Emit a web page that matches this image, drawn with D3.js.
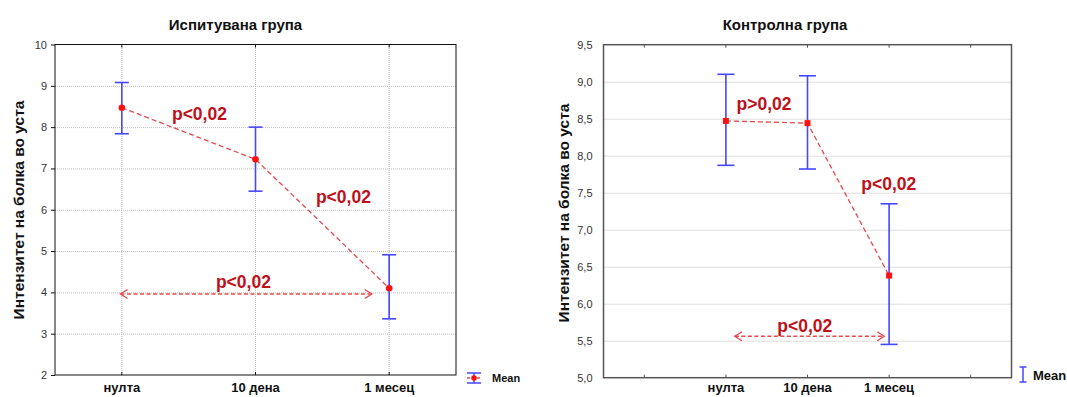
<!DOCTYPE html>
<html><head><meta charset="utf-8">
<script src="https://cdn.jsdelivr.net/npm/d3@7"></script>
<style>body{margin:0;background:#fff} svg{display:block} text{font-family:"Liberation Sans",Arial,sans-serif}</style>
</head><body><svg id="c" width="1067" height="397"></svg>
<script>
const categories = ["нулта", "10 дена", "1 месец"];
const expMean  = [8.47, 7.22, 4.10];
const expUpper = [9.08, 8.00, 4.91];
const expLower = [7.84, 6.45, 3.36];
const ctlMean  = [8.47, 8.44, 6.38];
const ctlUpper = [9.10, 9.08, 7.35];
const ctlLower = [7.87, 7.82, 5.45];
const expTicks = [2, 3, 4, 5, 6, 7, 8, 9, 10];
const ctlTicks = [5.0, 5.5, 6.0, 6.5, 7.0, 7.5, 8.0, 8.5, 9.0, 9.5];
const expNotes = [
  {t: "p<0,02", x: 0.375, y: 8.18},
  {t: "p<0,02", x: 1.452, y: 6.17},
  {t: "p<0,02", x: 0.704, y: 4.10}
];
const ctlNotes = [
  {t: "p>0,02", x: 0.13, y: 8.62},
  {t: "p<0,02", x: 1.66, y: 7.54},
  {t: "p<0,02", x: 0.63, y: 5.62}
];
const expArrow = {x1: -0.01, x2: 1.87, y: 3.96};
const ctlArrow = {x1: 0.11, x2: 1.94, y: 5.56};
const yTitle = "Интензитет на болка во уста";
const titles = ["Испитувана група", "Контролна група"];
const legendLabel = "Mean";

const svg = d3.select("#c");
svg.append("rect").attr("width", 1067).attr("height", 397).attr("fill", "#fff");
const defs = svg.append("defs");
defs.append("marker").attr("id", "ah").attr("viewBox", "-10 -6 12 12")
  .attr("markerWidth", 12).attr("markerHeight", 12).attr("markerUnits", "userSpaceOnUse")
  .attr("orient", "auto-start-reverse").attr("refX", 0).attr("refY", 0)
  .append("path").attr("d", "M-7,-4.5 L0,0 L-7,4.5").attr("fill", "none")
  .attr("stroke", "#e84a50").attr("stroke-width", 1.4);

const BLUE = "#4646ff", RED = "#ff1010", DASH = "#e04a50", NOTE = "#c0101a";

function panel(o) {
  const g = svg.append("g");
  const slots = o.pad ? ["_a", ...categories, "_b"] : categories.slice();
  const x = d3.scaleBand().domain(slots).range([o.l, o.r]);
  const cx = c => x(c) + x.bandwidth() / 2;
  const xi = d3.scaleLinear().domain([-0.5 - o.pad, categories.length - 0.5 + o.pad]).range([o.l, o.r]);
  const y = d3.scaleLinear().domain(o.yDomain).range([o.b, o.t]);
  const W = o.r - o.l, H = o.b - o.t;

  g.append("g").attr("transform", `translate(${o.l},0)`)
    .call(d3.axisLeft(y).tickValues(o.ticks.filter(v => v > o.yDomain[0] && v < o.yDomain[1])).tickSize(-W).tickFormat(""))
    .call(a => { a.select(".domain").remove(); a.selectAll("line").attr("stroke", "#bdbdbd").attr("stroke-dasharray", "1,1"); });
  if (o.vgrid) {
    g.append("g").attr("transform", `translate(0,${o.b})`)
      .call(d3.axisBottom(x).tickValues(categories).tickSize(-H).tickFormat(""))
      .call(a => { a.select(".domain").remove(); a.selectAll("line").attr("stroke", "#bdbdbd").attr("stroke-dasharray", "1,1"); });
  }
  g.append("g").attr("transform", `translate(${o.l},0)`)
    .call(d3.axisLeft(y).tickValues(o.ticks).tickSize(o.ytick).tickPadding(o.ypad).tickFormat(o.fmt))
    .call(a => {
      a.select(".domain").remove();
      a.selectAll("line").attr("stroke", o.frame);
      a.selectAll("text").attr("font-size", 11).attr("fill", "#333").attr("font-family", "Liberation Sans, Arial, sans-serif");
    });
  g.append("g").attr("transform", `translate(0,${o.b})`)
    .call(d3.axisBottom(x).tickSize(-3).tickPadding(o.xpad).tickFormat(d => categories.includes(d) ? d : ""))
    .call(a => {
      a.select(".domain").remove();
      a.selectAll("line").attr("stroke", o.frame);
      a.selectAll("text").attr("font-size", 13).attr("font-weight", "bold").attr("fill", "#111").attr("font-family", "Liberation Sans, Arial, sans-serif");
    });
  g.append("g").attr("transform", `translate(0,${o.t})`)
    .call(d3.axisTop(x).tickSize(-3).tickFormat(""))
    .call(a => { a.select(".domain").remove(); a.selectAll("line").attr("stroke", o.frame); });
  g.append("rect").attr("x", o.l).attr("y", o.t).attr("width", W).attr("height", H)
    .attr("fill", "none").attr("stroke", o.frame).attr("stroke-width", o.fw);

  g.append("text").attr("x", o.tx).attr("y", 30).attr("text-anchor", "middle")
    .attr("font-size", 15).attr("font-weight", "bold").attr("fill", "#111").text(o.title);
  g.append("text").attr("transform", `translate(${o.ylx},${o.yly}) rotate(-90)`).attr("dy", "0.35em")
    .attr("text-anchor", "middle").attr("font-size", 15.5).attr("font-weight", "bold").attr("fill", "#111").text(yTitle);

  const line = d3.line().x((d, i) => cx(categories[i])).y(d => y(d));
  g.append("path").attr("d", line(o.mean)).attr("fill", "none").attr("stroke", DASH)
    .attr("stroke-width", 1.3).attr("stroke-dasharray", "5,3");

  const eb = g.append("g").attr("stroke", BLUE).attr("stroke-width", 1.6);
  categories.forEach((c, i) => {
    const px = cx(c);
    eb.append("line").attr("x1", px).attr("x2", px).attr("y1", y(o.lower[i])).attr("y2", y(o.upper[i]));
    eb.append("line").attr("x1", px - o.cap / 2).attr("x2", px + o.cap / 2).attr("y1", y(o.upper[i])).attr("y2", y(o.upper[i]));
    eb.append("line").attr("x1", px - o.cap / 2).attr("x2", px + o.cap / 2).attr("y1", y(o.lower[i])).attr("y2", y(o.lower[i]));
  });
  categories.forEach((c, i) => {
    const px = cx(c), py = y(o.mean[i]);
    if (o.square) g.append("rect").attr("x", px - 3).attr("y", py - 3).attr("width", 6).attr("height", 6).attr("fill", RED);
    else g.append("circle").attr("cx", px).attr("cy", py).attr("r", 3.3).attr("fill", RED);
  });
  g.append("line").attr("x1", xi(o.arrow.x1)).attr("x2", xi(o.arrow.x2)).attr("y1", y(o.arrow.y)).attr("y2", y(o.arrow.y))
    .attr("stroke", "#e84a50").attr("stroke-width", 1.4).attr("stroke-dasharray", "4,2.5")
    .attr("marker-start", "url(#ah)").attr("marker-end", "url(#ah)");
  o.notes.forEach(n => {
    g.append("text").attr("x", xi(n.x)).attr("y", y(n.y)).attr("font-size", 18.5).attr("font-weight", "bold")
      .attr("fill", NOTE).attr("textLength", 55).attr("lengthAdjust", "spacingAndGlyphs").text(n.t);
  });
  const lg = g.append("g");
  const L = o.leg;
  lg.append("line").attr("x1", L.x).attr("x2", L.x).attr("y1", L.y1).attr("y2", L.y2).attr("stroke", BLUE).attr("stroke-width", 1.5);
  lg.append("line").attr("x1", L.x - L.cap / 2).attr("x2", L.x + L.cap / 2).attr("y1", L.y1).attr("y2", L.y1).attr("stroke", BLUE).attr("stroke-width", 1.5);
  lg.append("line").attr("x1", L.x - L.cap / 2).attr("x2", L.x + L.cap / 2).attr("y1", L.y2).attr("y2", L.y2).attr("stroke", BLUE).attr("stroke-width", 1.5);
  if (L.dot) {
    const my = (L.y1 + L.y2) / 2;
    lg.append("line").attr("x1", L.x - L.cap / 2).attr("x2", L.x + L.cap / 2).attr("y1", my).attr("y2", my)
      .attr("stroke", DASH).attr("stroke-width", 1.3).attr("stroke-dasharray", "3,2");
    lg.append("circle").attr("cx", L.x).attr("cy", my).attr("r", 2.8).attr("fill", RED);
  }
  lg.append("text").attr("x", L.tx).attr("y", L.ty).attr("font-size", L.fs).attr("font-weight", "bold").attr("fill", "#111").text(legendLabel);
}

panel({
  l: 55, r: 456, t: 44.5, b: 375, yDomain: [2, 10], ticks: expTicks, fmt: d3.format("d"),
  pad: 0, vgrid: true, ytick: 4, ypad: 4, xpad: 8, frame: "#111", fw: 1,
  title: titles[0], tx: 235.5, ylx: 18.5, yly: 210, mean: expMean, upper: expUpper, lower: expLower,
  cap: 14, square: false, notes: expNotes, arrow: expArrow,
  leg: {x: 474, y1: 373, y2: 383, cap: 14, dot: true, tx: 492, ty: 382, fs: 11}
});
panel({
  l: 603.5, r: 1011.5, t: 44.7, b: 377.7, yDomain: [5, 9.5], ticks: ctlTicks, fmt: d => d3.format(".1f")(d).replace(".", ","),
  pad: 1, vgrid: false, ytick: 0, ypad: 11, xpad: 5, frame: "#555", fw: 1.5,
  title: titles[1], tx: 785, ylx: 563.5, yly: 213, mean: ctlMean, upper: ctlUpper, lower: ctlLower,
  cap: 17, square: true, notes: ctlNotes, arrow: ctlArrow,
  leg: {x: 1023, y1: 367, y2: 382, cap: 7, dot: false, tx: 1033, ty: 380, fs: 13}
});
</script></body></html>
